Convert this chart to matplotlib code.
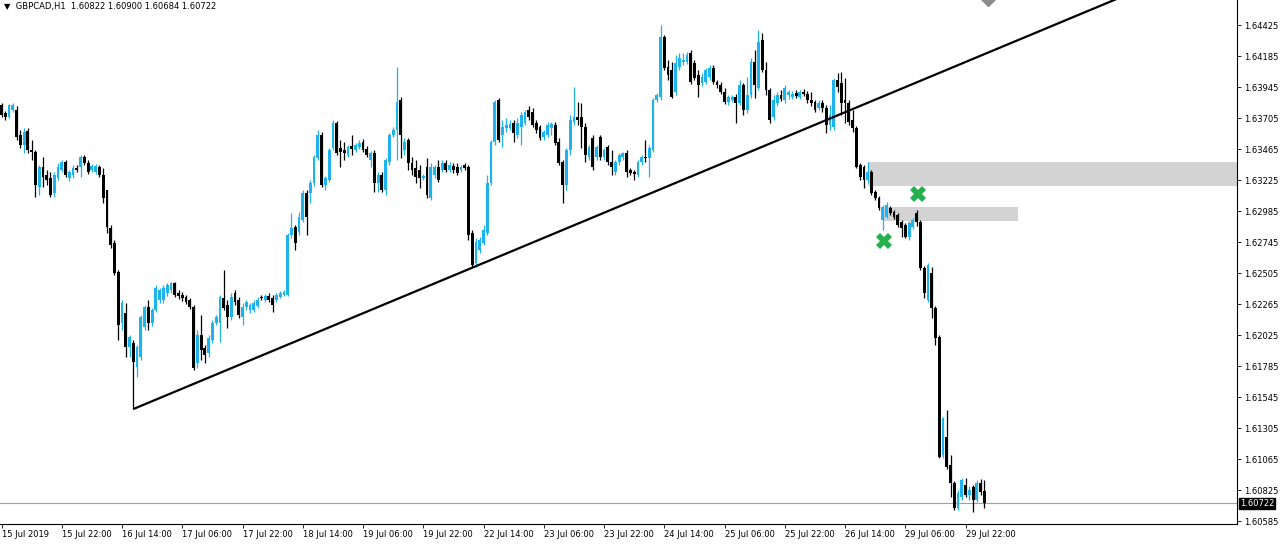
import matplotlib
matplotlib.use('Agg')
import matplotlib.pyplot as plt

# GBPCAD H1 candles, 15 Jul 2019 06:00 -> 30 Jul 2019 03:00
opens = [
    1.63806, 1.63745, 1.63714, 1.63768, 1.63768, 1.63574, 1.63497, 1.63605, 1.63458, 1.63443,
    1.63172, 1.63326, 1.63264, 1.63241, 1.63125, 1.63241, 1.63303, 1.63366, 1.63241, 1.63264,
    1.63319, 1.63326, 1.63404, 1.63358, 1.63303, 1.63288, 1.63326, 1.63264, 1.63148, 1.62855,
    1.62738, 1.62514, 1.62119, 1.62197, 1.61933, 1.61964, 1.61778, 1.61856, 1.62088, 1.62243,
    1.62119, 1.62220, 1.62297, 1.62297, 1.62351, 1.62374, 1.62429, 1.62351, 1.62336, 1.62320,
    1.62297, 1.62243, 1.61810, 1.62026, 1.61925, 1.61887, 1.61987, 1.62119, 1.62119, 1.62312,
    1.62258, 1.62165, 1.62351, 1.62297, 1.62165, 1.62243, 1.62220, 1.62220, 1.62251, 1.62320,
    1.62297, 1.62328, 1.62312, 1.62297, 1.62320, 1.62336, 1.62336, 1.62800, 1.62862, 1.62824,
    1.62916, 1.63125, 1.63125, 1.63203, 1.63396, 1.63574, 1.63187, 1.63226, 1.63474, 1.63667,
    1.63474, 1.63458, 1.63419, 1.63489, 1.63458, 1.63481, 1.63520, 1.63466, 1.63381, 1.63435,
    1.63203, 1.63264, 1.63148, 1.63366, 1.63574, 1.63613, 1.63845, 1.63458, 1.63535, 1.63358,
    1.63319, 1.63303, 1.63241, 1.63326, 1.63086, 1.63264, 1.63326, 1.63303, 1.63358, 1.63303,
    1.63335, 1.63326, 1.63303, 1.63342, 1.63326, 1.62816, 1.62584, 1.62684, 1.62738, 1.62816,
    1.63203, 1.63520, 1.63845, 1.63574, 1.63628, 1.63628, 1.63667, 1.63574, 1.63636, 1.63667,
    1.63768, 1.63753, 1.63667, 1.63636, 1.63559, 1.63574, 1.63628, 1.63652, 1.63520, 1.63366,
    1.63187, 1.63458, 1.63675, 1.63714, 1.63714, 1.63636, 1.63404, 1.63551, 1.63404, 1.63559,
    1.63404, 1.63481, 1.63366, 1.63288, 1.63366, 1.63404, 1.63435, 1.63303, 1.63288, 1.63264,
    1.63366, 1.63404, 1.63396, 1.63458, 1.63845, 1.63868, 1.64333, 1.64100, 1.64077, 1.63907,
    1.64100, 1.64140, 1.64140, 1.64209, 1.64132, 1.64039, 1.63977, 1.63985, 1.64023, 1.64093,
    1.63985, 1.63961, 1.63907, 1.63830, 1.63845, 1.63868, 1.63822, 1.63961, 1.63768, 1.63884,
    1.64140, 1.63938, 1.64309, 1.64077, 1.63922, 1.63714, 1.63822, 1.63884, 1.63845, 1.63884,
    1.63868, 1.63899, 1.63868, 1.63907, 1.63891, 1.63845, 1.63830, 1.63783, 1.63822, 1.63783,
    1.63652, 1.63636, 1.64000, 1.63977, 1.63845, 1.63822, 1.63690, 1.63628, 1.63342, 1.63326,
    1.63226, 1.63288, 1.63133, 1.63086, 1.62916, 1.62940, 1.63009, 1.62978, 1.62955, 1.62901,
    1.62878, 1.62785, 1.62862, 1.62970, 1.62901, 1.62545, 1.62297, 1.62506, 1.62235, 1.62010,
    1.61098, 1.61237, 1.61020, 1.60881, 1.60687, 1.60772, 1.60865, 1.60788, 1.60850, 1.60749,
    1.60881, 1.60822,
]
highs = [
    1.63822, 1.63760, 1.63814, 1.63822, 1.63799, 1.63613, 1.63628, 1.63628, 1.63535, 1.63458,
    1.63342, 1.63404, 1.63303, 1.63288, 1.63288, 1.63358, 1.63381, 1.63381, 1.63303, 1.63342,
    1.63342, 1.63419, 1.63419, 1.63381, 1.63350, 1.63350, 1.63342, 1.63319, 1.63148, 1.62878,
    1.62761, 1.62529, 1.62297, 1.62274, 1.62026, 1.61987, 1.61949, 1.62181, 1.62258, 1.62297,
    1.62235, 1.62413, 1.62390, 1.62413, 1.62429, 1.62437, 1.62437, 1.62374, 1.62359, 1.62336,
    1.62312, 1.62258, 1.62065, 1.62181, 1.61949, 1.62026, 1.62142, 1.62181, 1.62336, 1.62529,
    1.62297, 1.62351, 1.62374, 1.62320, 1.62274, 1.62297, 1.62274, 1.62297, 1.62320, 1.62336,
    1.62343, 1.62351, 1.62336, 1.62351, 1.62367, 1.62374, 1.62816, 1.62971, 1.62878, 1.62978,
    1.63148, 1.63148, 1.63226, 1.63419, 1.63613, 1.63598, 1.63257, 1.63474, 1.63690, 1.63682,
    1.63535, 1.63520, 1.63497, 1.63574, 1.63512, 1.63535, 1.63543, 1.63489, 1.63450, 1.63458,
    1.63288, 1.63288, 1.63396, 1.63590, 1.63636, 1.64100, 1.63868, 1.63551, 1.63551, 1.63404,
    1.63381, 1.63342, 1.63272, 1.63396, 1.63358, 1.63342, 1.63381, 1.63381, 1.63381, 1.63366,
    1.63358, 1.63358, 1.63342, 1.63358, 1.63342, 1.62839, 1.62777, 1.62785, 1.62878, 1.63264,
    1.63535, 1.63845, 1.63860, 1.63690, 1.63706, 1.63690, 1.63690, 1.63706, 1.63753, 1.63768,
    1.63799, 1.63784, 1.63690, 1.63652, 1.63613, 1.63675, 1.63675, 1.63675, 1.63551, 1.63381,
    1.63474, 1.63729, 1.63946, 1.63830, 1.63822, 1.63667, 1.63497, 1.63574, 1.63497, 1.63574,
    1.63474, 1.63497, 1.63458, 1.63381, 1.63435, 1.63443, 1.63458, 1.63319, 1.63303, 1.63381,
    1.63419, 1.63535, 1.63497, 1.63860, 1.63899, 1.64425, 1.64348, 1.64155, 1.64140, 1.64193,
    1.64209, 1.64209, 1.64217, 1.64232, 1.64155, 1.64077, 1.64054, 1.64093, 1.64116, 1.64116,
    1.64000, 1.63985, 1.63938, 1.63884, 1.63884, 1.63891, 1.64000, 1.63977, 1.64023, 1.64170,
    1.64232, 1.64387, 1.64364, 1.64140, 1.63938, 1.63884, 1.63907, 1.63922, 1.63961, 1.63922,
    1.63915, 1.63922, 1.63922, 1.63930, 1.63915, 1.63907, 1.63845, 1.63845, 1.63845, 1.63806,
    1.63806, 1.64015, 1.64054, 1.64062, 1.64015, 1.63845, 1.63768, 1.63644, 1.63358, 1.63342,
    1.63366, 1.63303, 1.63148, 1.63102, 1.63032, 1.63056, 1.63025, 1.62994, 1.62970, 1.62916,
    1.62893, 1.62908, 1.62932, 1.62994, 1.62916, 1.62560, 1.62584, 1.62552, 1.62250, 1.62026,
    1.61392, 1.61446, 1.61098, 1.60896, 1.60826, 1.60919, 1.60919, 1.60857, 1.60865, 1.60904,
    1.60912, 1.60900,
]
lows = [
    1.63714, 1.63690, 1.63706, 1.63753, 1.63535, 1.63473, 1.63435, 1.63435, 1.63381, 1.63094,
    1.63109, 1.63172, 1.63187, 1.63094, 1.63094, 1.63226, 1.63288, 1.63249, 1.63218, 1.63241,
    1.63288, 1.63249, 1.63342, 1.63272, 1.63288, 1.63272, 1.63249, 1.63048, 1.62816, 1.62699,
    1.62490, 1.61987, 1.62065, 1.61856, 1.61856, 1.61453, 1.61701, 1.61833, 1.62065, 1.62065,
    1.62096, 1.62204, 1.62274, 1.62274, 1.62328, 1.62351, 1.62320, 1.62305, 1.62289, 1.62266,
    1.62227, 1.61755, 1.61771, 1.61833, 1.61810, 1.61856, 1.61964, 1.62103, 1.61972, 1.62220,
    1.62080, 1.62142, 1.62258, 1.62157, 1.62103, 1.62220, 1.62197, 1.62204, 1.62235, 1.62297,
    1.62282, 1.62282, 1.62204, 1.62282, 1.62312, 1.62328, 1.62328, 1.62777, 1.62684, 1.62800,
    1.62901, 1.62800, 1.63048, 1.63180, 1.63381, 1.63172, 1.63148, 1.63211, 1.63458, 1.63419,
    1.63326, 1.63381, 1.63404, 1.63419, 1.63443, 1.63466, 1.63443, 1.63404, 1.63326, 1.63133,
    1.63133, 1.63133, 1.63109, 1.63342, 1.63559, 1.63381, 1.63396, 1.63419, 1.63303, 1.63264,
    1.63203, 1.63164, 1.63226, 1.63086, 1.63071, 1.63241, 1.63211, 1.63288, 1.63288, 1.63288,
    1.63280, 1.63264, 1.63288, 1.63303, 1.62761, 1.62552, 1.62552, 1.62661, 1.62723, 1.62800,
    1.63187, 1.63497, 1.63520, 1.63481, 1.63598, 1.63613, 1.63520, 1.63551, 1.63497, 1.63652,
    1.63690, 1.63636, 1.63590, 1.63535, 1.63535, 1.63559, 1.63574, 1.63497, 1.63342, 1.63048,
    1.63148, 1.63419, 1.63652, 1.63652, 1.63474, 1.63366, 1.63381, 1.63303, 1.63381, 1.63381,
    1.63381, 1.63342, 1.63264, 1.63264, 1.63342, 1.63381, 1.63249, 1.63264, 1.63226, 1.63249,
    1.63342, 1.63366, 1.63249, 1.63443, 1.63830, 1.63845, 1.64077, 1.64000, 1.63860, 1.63884,
    1.64077, 1.64116, 1.64124, 1.63969, 1.64000, 1.63868, 1.63953, 1.63969, 1.64000, 1.63969,
    1.63938, 1.63891, 1.63814, 1.63806, 1.63830, 1.63667, 1.63806, 1.63729, 1.63745, 1.63860,
    1.63860, 1.63922, 1.64062, 1.63884, 1.63667, 1.63690, 1.63799, 1.63837, 1.63822, 1.63853,
    1.63853, 1.63860, 1.63853, 1.63876, 1.63822, 1.63799, 1.63752, 1.63768, 1.63752, 1.63590,
    1.63613, 1.63613, 1.63907, 1.63729, 1.63667, 1.63652, 1.63598, 1.63319, 1.63226, 1.63164,
    1.63203, 1.63110, 1.63071, 1.62994, 1.62839, 1.62932, 1.62955, 1.62924, 1.62862, 1.62785,
    1.62777, 1.62761, 1.62847, 1.62870, 1.62529, 1.62312, 1.62282, 1.62157, 1.61949, 1.61074,
    1.61074, 1.60989, 1.60772, 1.60672, 1.60672, 1.60749, 1.60772, 1.60749, 1.60656, 1.60734,
    1.60788, 1.60684,
]
closes = [
    1.63729, 1.63714, 1.63806, 1.63806, 1.63559, 1.63497, 1.63598, 1.63458, 1.63443, 1.63187,
    1.63326, 1.63249, 1.63226, 1.63109, 1.63264, 1.63326, 1.63366, 1.63264, 1.63288, 1.63319,
    1.63303, 1.63404, 1.63358, 1.63288, 1.63335, 1.63335, 1.63264, 1.63086, 1.62862, 1.62723,
    1.62506, 1.62103, 1.62274, 1.61933, 1.62010, 1.61817, 1.61933, 1.62165, 1.62243, 1.62119,
    1.62220, 1.62390, 1.62374, 1.62390, 1.62413, 1.62429, 1.62336, 1.62328, 1.62312, 1.62282,
    1.62243, 1.61771, 1.62026, 1.61910, 1.61871, 1.62003, 1.62119, 1.62165, 1.62320, 1.62235,
    1.62165, 1.62320, 1.62282, 1.62181, 1.62243, 1.62282, 1.62258, 1.62274, 1.62297, 1.62312,
    1.62328, 1.62297, 1.62258, 1.62336, 1.62351, 1.62359, 1.62800, 1.62855, 1.62738, 1.62940,
    1.63125, 1.62940, 1.63203, 1.63404, 1.63574, 1.63187, 1.63241, 1.63458, 1.63667, 1.63435,
    1.63443, 1.63435, 1.63481, 1.63466, 1.63497, 1.63512, 1.63458, 1.63419, 1.63435, 1.63203,
    1.63264, 1.63148, 1.63381, 1.63574, 1.63613, 1.63830, 1.63574, 1.63520, 1.63358, 1.63303,
    1.63249, 1.63241, 1.63257, 1.63110, 1.63326, 1.63326, 1.63226, 1.63358, 1.63303, 1.63342,
    1.63303, 1.63280, 1.63326, 1.63319, 1.62800, 1.62568, 1.62746, 1.62761, 1.62839, 1.63203,
    1.63520, 1.63830, 1.63535, 1.63636, 1.63652, 1.63659, 1.63590, 1.63667, 1.63729, 1.63753,
    1.63714, 1.63652, 1.63613, 1.63551, 1.63598, 1.63652, 1.63659, 1.63512, 1.63358, 1.63187,
    1.63458, 1.63690, 1.63714, 1.63690, 1.63636, 1.63419, 1.63481, 1.63326, 1.63481, 1.63404,
    1.63458, 1.63366, 1.63326, 1.63366, 1.63419, 1.63435, 1.63288, 1.63280, 1.63272, 1.63366,
    1.63404, 1.63396, 1.63474, 1.63845, 1.63884, 1.64333, 1.64093, 1.64039, 1.63868, 1.64132,
    1.64170, 1.64155, 1.64193, 1.63985, 1.64015, 1.63961, 1.64023, 1.64077, 1.64093, 1.63985,
    1.63961, 1.63907, 1.63830, 1.63868, 1.63868, 1.63822, 1.63961, 1.63768, 1.63884, 1.64140,
    1.63961, 1.64294, 1.64077, 1.63922, 1.63690, 1.63845, 1.63884, 1.63853, 1.63938, 1.63907,
    1.63891, 1.63876, 1.63907, 1.63891, 1.63845, 1.63822, 1.63768, 1.63822, 1.63783, 1.63652,
    1.63729, 1.64000, 1.63946, 1.63822, 1.63822, 1.63675, 1.63628, 1.63326, 1.63249, 1.63226,
    1.63288, 1.63125, 1.63086, 1.63009, 1.63017, 1.63032, 1.62970, 1.62940, 1.62878, 1.62855,
    1.62785, 1.62893, 1.62916, 1.62901, 1.62545, 1.62351, 1.62568, 1.62235, 1.62003, 1.61082,
    1.61384, 1.61005, 1.60881, 1.60687, 1.60803, 1.60904, 1.60788, 1.60826, 1.60749, 1.60881,
    1.60811, 1.60722,
]

# one label every 16 bars
time_labels = ['15 Jul 2019', '15 Jul 22:00', '16 Jul 14:00', '17 Jul 06:00', '17 Jul 22:00',
               '18 Jul 14:00', '19 Jul 06:00', '19 Jul 22:00', '22 Jul 14:00', '23 Jul 06:00',
               '23 Jul 22:00', '24 Jul 14:00', '25 Jul 06:00', '25 Jul 22:00', '26 Jul 14:00',
               '29 Jul 06:00', '29 Jul 22:00']
price_ticks = [1.60585, 1.60825, 1.61065, 1.61305, 1.61545, 1.61785, 1.62025, 1.62265, 1.62505,
               1.62745, 1.62985, 1.63225, 1.63465, 1.63705, 1.63945, 1.64185, 1.64425]

# drawn objects: trendline anchors, supply/demand zones, markers
trend_bars = [35, 125]
trend_prices = [1.61453, 1.62547]
zone_upper = (230, 400, 1.63179, 1.63365)   # bar from, bar to, price low, price high
zone_lower = (234, 270, 1.62908, 1.63017)
cross_bars = [243.4, 234.3]
cross_prices = [1.63117, 1.62754]
last_price = 1.60722

BULL = '#1fb3ee'
BEAR = '#000000'

fig = plt.figure(figsize=(12.8, 5.44), dpi=100)
ax = fig.add_axes([0.0, 20 / 544, 1237 / 1280, 524 / 544])

n = len(closes)
xs = list(range(n))
up = [c >= o for o, c in zip(opens, closes)]
cols = [BULL if u else BEAR for u in up]

ax.vlines(xs, lows, highs, colors=cols, linewidth=0.9, zorder=3)
bottoms = [min(o, c) for o, c in zip(opens, closes)]
heights = [max(abs(c - o), 0.00004) for o, c in zip(opens, closes)]
ax.bar(xs, heights, bottom=bottoms, width=0.75, color=cols, linewidth=0, zorder=4)

# zones
for b0, b1, p0, p1 in (zone_upper, zone_lower):
    ax.fill_between([b0, b1], p0, p1, color='#d3d3d3', linewidth=0, zorder=1)

# trendline (ray to the right)
slope = (trend_prices[1] - trend_prices[0]) / (trend_bars[1] - trend_bars[0])
x_end = 400
ax.plot([trend_bars[0], x_end], [trend_prices[0], trend_prices[0] + slope * (x_end - trend_bars[0])],
        color='black', linewidth=1.6, zorder=5, solid_capstyle='butt')

# green crosses
ax.plot(cross_bars, cross_prices, linestyle='none', marker='X', markersize=11,
        color='#22b14c', markeredgewidth=0, zorder=6)

# grey diamond at the top edge
ax.plot([262], [1.64634], marker='D', markersize=8, color='#8c8c8c', zorder=6)

# last price line + label
ax.axhline(last_price, color='#a0a0a0', linewidth=0.8, zorder=2)
ax.annotate('%.5f' % last_price, xy=(1.0, last_price), xycoords=('axes fraction', 'data'),
            xytext=(2, 0), textcoords='offset points', ha='left', va='center',
            fontsize=6, color='white', annotation_clip=False,
            bbox=dict(boxstyle='square,pad=0.15', fc='black', ec='black'))

ax.set_xlim(-0.4, (1237 - 1.5) / 3.766)
ax.set_ylim(1.64619 - 0.0000774 * 524, 1.64619)

ax.yaxis.tick_right()
ax.set_yticks(price_ticks)
ax.set_yticklabels(['%.5f' % p for p in price_ticks])
ax.set_xticks([16 * k for k in range(len(time_labels))])
ax.set_xticklabels(time_labels, ha='left')
ax.tick_params(axis='both', labelsize=6, length=3, width=0.6, colors='black', pad=2)
ax.tick_params(axis='x', pad=1.5)
for sp in ('left', 'top'):
    ax.spines[sp].set_visible(False)
for sp in ('right', 'bottom'):
    ax.spines[sp].set_linewidth(0.8)

# header
ax.text(4 / 1237, 1 - 7 / 524, '\u25bc  GBPCAD,H1  1.60822 1.60900 1.60684 1.60722',
        transform=ax.transAxes, fontsize=6, va='center', ha='left')

fig.savefig('out.png', dpi=100)
